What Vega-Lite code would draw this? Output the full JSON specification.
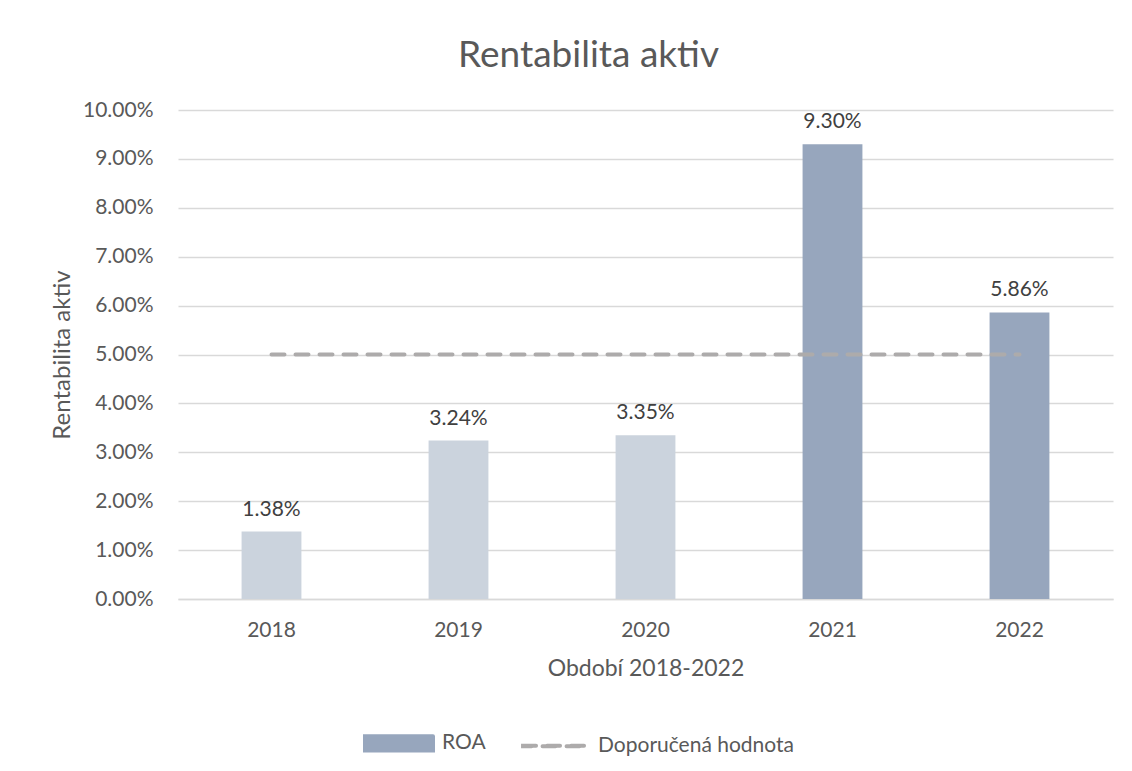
{
  "$schema": "https://vega.github.io/schema/vega-lite/v6.json",
  "width": 935,
  "height": 489,
  "autosize": "none",
  "padding": {"left": 178, "top": 110, "right": 19, "bottom": 172},
  "background": "white",
  "config": {
    "font": "Lato",
    "view": {"stroke": null},
    "axis": {"labelFont": "Lato", "titleFont": "Lato", "labelColor": "#595959", "titleColor": "#595959", "titleFontWeight": "normal", "labelFontSize": 21, "titleFontSize": 23}
  },
  "title": {"text": "Rentabilita aktiv", "fontSize": 37, "font": "Lato", "color": "#595959", "fontWeight": "normal", "anchor": "middle", "dx": -57, "offset": 24},
  "datasets": {
    "roa": [
      {"year": "2018", "roa": 0.0138, "shade": "light", "label": "1.38%"},
      {"year": "2019", "roa": 0.0324, "shade": "light", "label": "3.24%"},
      {"year": "2020", "roa": 0.0335, "shade": "light", "label": "3.35%"},
      {"year": "2021", "roa": 0.093, "shade": "dark", "label": "9.30%"},
      {"year": "2022", "roa": 0.0586, "shade": "dark", "label": "5.86%"}
    ],
    "ref": [
      {"year": "2018", "value": 0.05, "series": "Doporučená hodnota"},
      {"year": "2019", "value": 0.05, "series": "Doporučená hodnota"},
      {"year": "2020", "value": 0.05, "series": "Doporučená hodnota"},
      {"year": "2021", "value": 0.05, "series": "Doporučená hodnota"},
      {"year": "2022", "value": 0.05, "series": "Doporučená hodnota"}
    ]
  },
  "encoding": {
    "x": {
      "field": "year", "type": "nominal",
      "scale": {"paddingInner": 0.68, "paddingOuter": 0.34},
      "axis": {"title": "Období 2018-2022", "labelAngle": 0, "ticks": false, "domainColor": "#D9D9D9", "domainWidth": 1.5, "labelPadding": 20, "titlePadding": 17}
    }
  },
  "layer": [
    {
      "data": {"name": "roa"},
      "mark": {"type": "bar"},
      "encoding": {
        "y": {
          "field": "roa", "type": "quantitative",
          "scale": {"domain": [0, 0.1], "nice": false},
          "axis": {"title": "Rentabilita aktiv", "titleFontSize": 24, "format": ".2%", "values": [0, 0.01, 0.02, 0.03, 0.04, 0.05, 0.06, 0.07, 0.08, 0.09, 0.1], "labelOverlap": false, "ticks": false, "domain": false, "gridColor": "#D9D9D9", "gridWidth": 1.5, "labelPadding": 25, "titleX": -116, "titleY": 244.5, "titleAlign": "center", "titleBaseline": "middle"}
        },
        "fill": {"field": "shade", "type": "nominal", "scale": {"domain": ["light", "dark"], "range": ["#CBD3DD", "#97A6BD"]}, "legend": null}
      }
    },
    {
      "data": {"name": "roa"},
      "mark": {"type": "text", "baseline": "bottom", "dy": -12, "fontSize": 21, "color": "#404040", "font": "Lato"},
      "encoding": {
        "y": {"field": "roa", "type": "quantitative"},
        "text": {"field": "label"}
      }
    },
    {
      "data": {"name": "ref"},
      "mark": {"type": "line", "strokeWidth": 4, "strokeDash": [13, 11], "strokeCap": "round"},
      "encoding": {
        "y": {"field": "value", "type": "quantitative"},
        "color": {
          "field": "series", "type": "nominal",
          "scale": {"domain": ["ROA", "Doporučená hodnota"], "range": ["#97A6BD", "#ADABAB"]},
          "legend": {
            "title": null, "orient": "none", "direction": "horizontal", "legendX": 185, "legendY": 597,
            "symbolSize": 4624, "labelFontSize": 21, "labelColor": "#595959", "labelFont": "Lato", "labelOffset": 7, "columnPadding": 29, "labelLimit": 400,
            "symbolStrokeWidth": 4,
            "encode": {
              "symbols": {
                "update": {
                  "shape": {"signal": "datum.value === 'ROA' ? 'M-1,-0.21H1V0.21H-1Z' : 'M-0.94,-0.01H0.94V0.01H-0.94Z'"},
                  "fill": {"signal": "datum.value === 'ROA' ? '#97A6BD' : 'transparent'"},
                  "stroke": {"signal": "datum.value === 'ROA' ? 'transparent' : '#ADABAB'"},
                  "strokeDash": {"signal": "datum.value === 'ROA' ? [1,0] : [13,11]"},
                  "strokeCap": {"value": "round"},
                  "strokeWidth": {"value": 4},
                  "opacity": {"value": 1}
                }
              }
            }
          }
        }
      }
    }
  ]
}
